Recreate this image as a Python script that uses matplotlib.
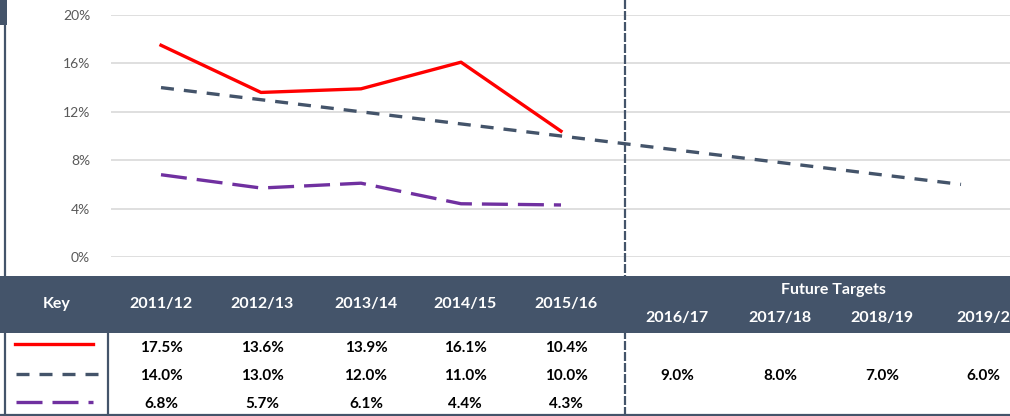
import matplotlib
matplotlib.use("Agg")
import matplotlib.pyplot as plt
from matplotlib.patches import Rectangle

# data
years = ["2011/12", "2012/13", "2013/14", "2014/15", "2015/16",
         "2016/17", "2017/18", "2018/19", "2019/20"]
actual_red = [17.5, 13.6, 13.9, 16.1, 10.4]
target_grey = [14.0, 13.0, 12.0, 11.0, 10.0, 9.0, 8.0, 7.0, 6.0]
actual_purple = [6.8, 5.7, 6.1, 4.4, 4.3]
y_ticks = [0, 4, 8, 12, 16, 20]

RED = "#FF0000"
SLATE = "#44546A"
PURPLE = "#7030A0"
GRID = "#D9D9D9"
PX = 0.72  # points per pixel at 100 dpi

plt.rcParams["lines.scale_dashes"] = False
plt.rcParams["font.family"] = ["Lato", "DejaVu Sans"]

W, H = 1010, 416
fig = plt.figure(figsize=(W / 100, H / 100), dpi=100)

# chart area: 0% gridline at y=257px, 20% at y=15px, starts at x=111px
ax = fig.add_axes([111 / W, (H - 257) / H, 1 - 111 / W, (257 - 15) / H])
ax.set_xlim(-0.5, 8.49)
ax.set_ylim(0, 20)
for s in ax.spines.values():
    s.set_visible(False)
ax.set_yticks(y_ticks)
ax.set_yticklabels([f"{v}%" for v in y_ticks], color="#595959", fontsize=10)
ax.tick_params(axis="y", length=0, pad=15)
ax.set_xticks([])
ax.grid(axis="y", color=GRID, linewidth=1.2)
ax.set_axisbelow(True)

grey_style = dict(color=SLATE, linewidth=2.4, dashes=(13 * PX, 10 * PX))
purple_style = dict(color=PURPLE, linewidth=2.4, dashes=(26 * PX, 10 * PX))
red_style = dict(color=RED, linewidth=2.4)

ax.plot(range(len(target_grey)), target_grey, solid_capstyle="butt", **grey_style)
ax.plot(range(len(actual_purple)), actual_purple, **purple_style)
ax.plot(range(len(actual_red)), actual_red, **red_style)

# overlay in pixel coordinates for the table and frame
ov = fig.add_axes([0, 0, 1, 1], zorder=5)
ov.set_xlim(0, W)
ov.set_ylim(H, 0)
ov.axis("off")
ov.patch.set_alpha(0)

ov.add_patch(Rectangle((0, 276), W, 57, color=SLATE, lw=0))
ov.add_patch(Rectangle((0, 0), 7, 25, color=SLATE, lw=0))
ov.plot([5, 5], [0, H], color=SLATE, lw=1.6)
ov.plot([0, W], [415, 415], color=SLATE, lw=1.6)
ov.plot([108, 108], [333, H], color=SLATE, lw=1.6)
ov.plot([625, 625], [0, H], color=SLATE, lw=1.6, dashes=(9 * PX, 2 * PX))

hist_x = [161, 262, 366, 465, 566]
fut_x = [677, 780, 882, 988]
head = dict(color="white", fontweight="bold", fontsize=11.5, ha="center", va="center")
ov.text(57, 304, "Key", **head)
for x, lab in zip(hist_x, years[:5]):
    ov.text(x, 304, lab, **head)
ov.text(833, 290, "Future Targets", **head)
for x, lab in zip(fut_x, years[5:]):
    ov.text(x, 318, lab, **head)

row_y = [348, 376, 404]
cell = dict(color="black", fontweight="bold", fontsize=11, ha="center", va="center")
for x, v in zip(hist_x, actual_red):
    ov.text(x, row_y[0], f"{v:.1f}%", **cell)
for x, v in zip(hist_x + fut_x[:3] + [983], target_grey):
    ov.text(x, row_y[1], f"{v:.1f}%", **cell)
for x, v in zip(hist_x, actual_purple):
    ov.text(x, row_y[2], f"{v:.1f}%", **cell)

# key samples
ov.plot([15, 93], [344, 344], **red_style)
ov.plot([16, 98], [374, 374], **grey_style)
ov.plot([16, 93], [402, 402], **purple_style)

fig.savefig("out.png", dpi=100)
